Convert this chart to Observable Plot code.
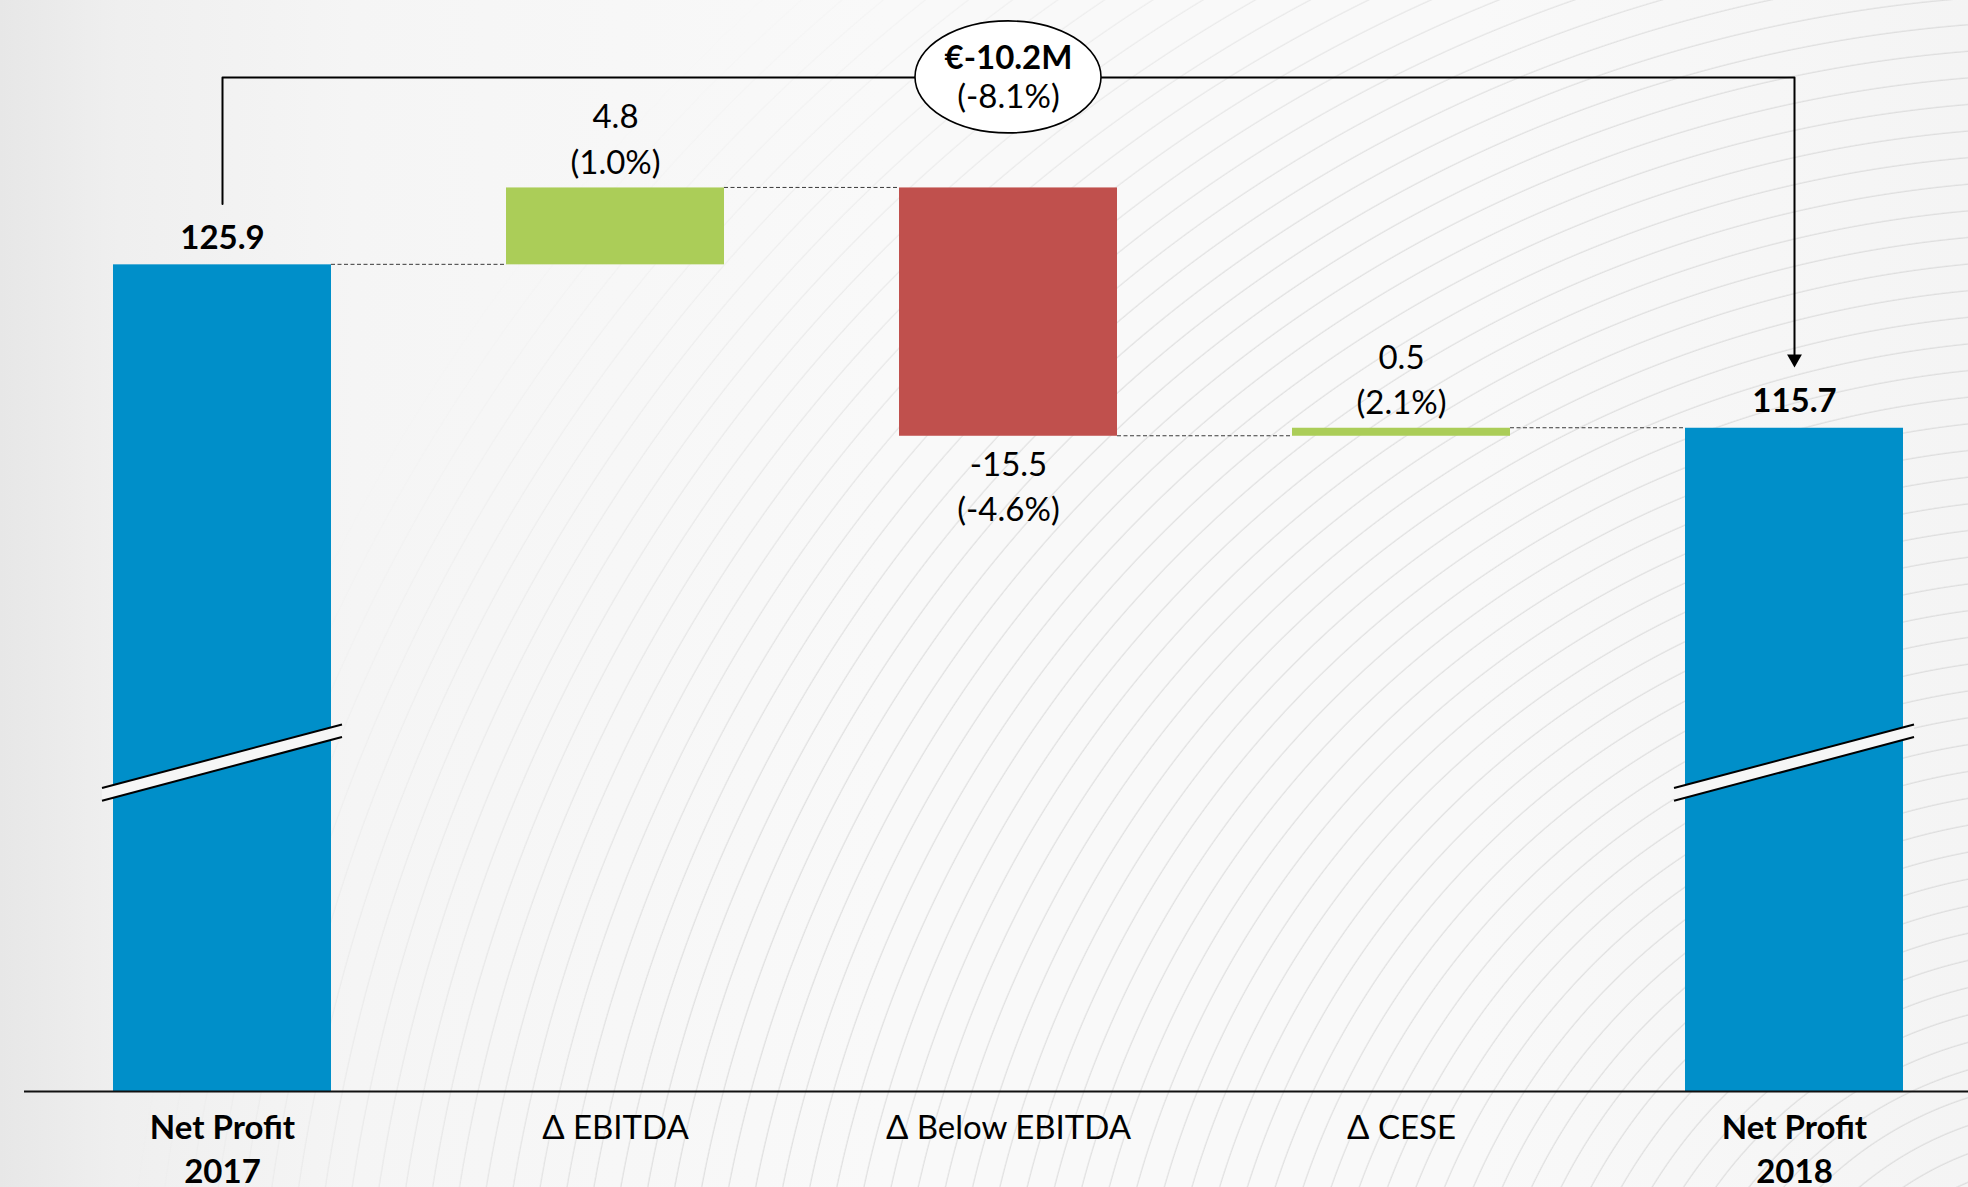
<!DOCTYPE html>
<html>
<head>
<meta charset="utf-8">
<script src="https://cdn.jsdelivr.net/npm/d3@7"></script>
<script src="https://cdn.jsdelivr.net/npm/@observablehq/plot@0.6"></script>
<style>
html, body { margin: 0; padding: 0; }
body { width: 1968px; height: 1187px; overflow: hidden; }
#wrap {
  position: relative; width: 1968px; height: 1187px;
  background: linear-gradient(to right, #e7e7e7 0%, #efefef 6%, #f5f5f5 18%, #f9f9f9 45%, #f9f9f9 75%, #f4f4f4 100%);
}
#rings {
  position: absolute; left: 0; top: 0; width: 1968px; height: 1187px;
  background: repeating-radial-gradient(circle at 2080px 1450px, rgba(0,0,0,0) 0px, rgba(0,0,0,0) 24px, rgba(150,150,150,0.24) 25px, rgba(0,0,0,0) 26.5px);
  -webkit-mask-image: radial-gradient(circle at 2080px 1450px, #000 1450px, rgba(0,0,0,0) 1980px);
  mask-image: radial-gradient(circle at 2080px 1450px, #000 1450px, rgba(0,0,0,0) 1980px);
}
#chart { position: absolute; left: 0; top: 0; }
</style>
</head>
<body>
<div id="wrap"><div id="rings"></div><div id="chart"></div></div>
<script>
// ---- data ----
const categories = ["Net Profit 2017", "Δ EBITDA", "Δ Below EBITDA", "Δ CESE", "Net Profit 2018"];
const axisLabels = ["Net Profit\n2017", "Δ EBITDA", "Δ Below EBITDA", "Δ CESE", "Net Profit\n2018"];
const values = [125.9, 4.8, -15.5, 0.5, 115.7];
const kinds = ["total", "increase", "decrease", "increase", "total"];
const valueLabels = ["125.9", "4.8", "-15.5", "0.5", "115.7"];
const pctLabels = ["", "(1.0%)", "(-4.6%)", "(2.1%)", ""];
const totalChangeLabel = "€-10.2M";
const totalChangePct = "(-8.1%)";

// broken value axis: visible window and annotation levels (data units)
const yBase = 74.3, yTop = 142.4;
const yBreak = 94.8;
const bracketLevel = 137.6, bracketStart = 129.7, arrowTip = 119.5;

const colors = {total: "#008fc9", increase: "#abcd58", decrease: "#c0504d"};
const bg = "#f6f6f6";
const FONT = 33;

// ---- build waterfall rows ----
let running = 0;
const rows = categories.map((cat, i) => {
  let y1, y2;
  if (kinds[i] === "total") { y1 = yBase; y2 = values[i]; running = values[i]; }
  else { y1 = running; y2 = running + values[i]; running = y2; }
  return {cat, axis: axisLabels[i], kind: kinds[i], y1, y2,
          lo: Math.min(y1, y2), hi: Math.max(y1, y2), end: y2,
          label: pctLabels[i] ? valueLabels[i] + "\n" + pctLabels[i] : valueLabels[i]};
});
const totals = rows.filter(d => d.kind === "total");
const ups = rows.filter(d => d.kind === "increase");
const downs = rows.filter(d => d.kind === "decrease");

// dashed connectors from right edge of a bar to left edge of the next
function connectors(index, scales) {
  const {x, y} = scales;
  const bw = x.bandwidth();
  const g = d3.create("svg:g");
  for (let i = 0; i < rows.length - 1; i++) {
    g.append("line")
      .attr("x1", x(rows[i].cat) + bw).attr("x2", x(rows[i + 1].cat))
      .attr("y1", y(rows[i].end)).attr("y2", y(rows[i].end))
      .attr("stroke", "#3a3a3a").attr("stroke-width", 1)
      .attr("stroke-dasharray", "4,2.5");
  }
  return g.node();
}

// axis-break marks across total bars
function breaks(index, scales) {
  const {x, y} = scales;
  const bw = x.bandwidth();
  const g = d3.create("svg:g");
  const half = bw / 2 + 11, s = -0.265, gap = 6.3;
  for (const d of totals) {
    const cx = x(d.cat) + bw / 2, cy = y(yBreak);
    const xa = cx - half, xb = cx + half;
    const ya = cy - s * half, yb = cy + s * half;
    g.append("path")
      .attr("d", `M${xa},${ya - gap}L${xb},${yb - gap}L${xb},${yb + gap}L${xa},${ya + gap}Z`)
      .attr("fill", bg);
    g.append("line").attr("x1", xa).attr("y1", ya - gap).attr("x2", xb).attr("y2", yb - gap)
      .attr("stroke", "#000").attr("stroke-width", 2);
    g.append("line").attr("x1", xa).attr("y1", ya + gap).attr("x2", xb).attr("y2", yb + gap)
      .attr("stroke", "#000").attr("stroke-width", 2);
  }
  return g.node();
}

// ellipse behind the total-change annotation
function ellipse(index, scales) {
  const {x, y} = scales;
  const bw = x.bandwidth();
  const g = d3.create("svg:g");
  g.append("ellipse")
    .attr("cx", x(categories[2]) + bw / 2).attr("cy", y(bracketLevel))
    .attr("rx", 93).attr("ry", 56)
    .attr("fill", "#fff").attr("stroke", "#000").attr("stroke-width", 1.6);
  return g.node();
}

const bracket = [
  {x: categories[0], y: bracketStart},
  {x: categories[0], y: bracketLevel},
  {x: categories[4], y: bracketLevel},
  {x: categories[4], y: arrowTip + 0.5}
];

const chart = Plot.plot({
  width: 1968,
  height: 1187,
  marginLeft: 24,
  marginRight: 0,
  marginTop: 0,
  marginBottom: 96,
  style: {background: "transparent", fontFamily: "Lato, 'Open Sans', sans-serif", color: "#000", overflow: "visible"},
  x: {domain: categories, paddingInner: 0.446, paddingOuter: 0.193, align: 0.577, axis: null},
  y: {domain: [yBase, yTop], axis: null},
  color: {domain: Object.keys(colors), range: Object.values(colors)},
  marks: [
    connectors,
    Plot.barY(rows, {x: "cat", y1: "y1", y2: "y2", fill: "kind"}),
    breaks,
    Plot.ruleY([yBase], {stroke: "#111", strokeWidth: 2}),
    Plot.line(bracket, {x: "x", y: "y", stroke: "#000", strokeWidth: 2}),
    Plot.dot([{x: categories[4], y: arrowTip}], {x: "x", y: "y", symbol: "triangle", rotate: 180, r: 5.5, fill: "#000", stroke: "none", dy: -8.5}),
    ellipse,
    Plot.text([{x: categories[2], y: bracketLevel}], {x: "x", y: "y", text: () => totalChangeLabel, fontSize: FONT, fontWeight: "bold", dy: -19, fill: "#000"}),
    Plot.text([{x: categories[2], y: bracketLevel}], {x: "x", y: "y", text: () => totalChangePct, fontSize: FONT, dy: 20, fill: "#000"}),
    Plot.text(totals, {x: "cat", y: "y2", text: "label", fontSize: FONT, fontWeight: "bold", lineAnchor: "bottom", dy: -16, fill: "#000"}),
    Plot.text(ups, {x: "cat", y: "hi", text: "label", fontSize: FONT, lineHeight: 1.38, lineAnchor: "bottom", dy: -14, fill: "#000"}),
    Plot.text(downs, {x: "cat", y: "lo", text: "label", fontSize: FONT, lineHeight: 1.38, lineAnchor: "top", dy: 7, fill: "#000"}),
    Plot.text(totals, {x: "cat", y: () => yBase, text: "axis", fontSize: FONT, fontWeight: "bold", lineHeight: 1.33, lineAnchor: "top", dy: 16, fill: "#000"}),
    Plot.text(rows.filter(d => d.kind !== "total"), {x: "cat", y: () => yBase, text: "axis", fontSize: FONT, lineHeight: 1.33, lineAnchor: "top", dy: 16, fill: "#000"})
  ]
});
document.getElementById("chart").appendChild(chart);
</script>
</body>
</html>
